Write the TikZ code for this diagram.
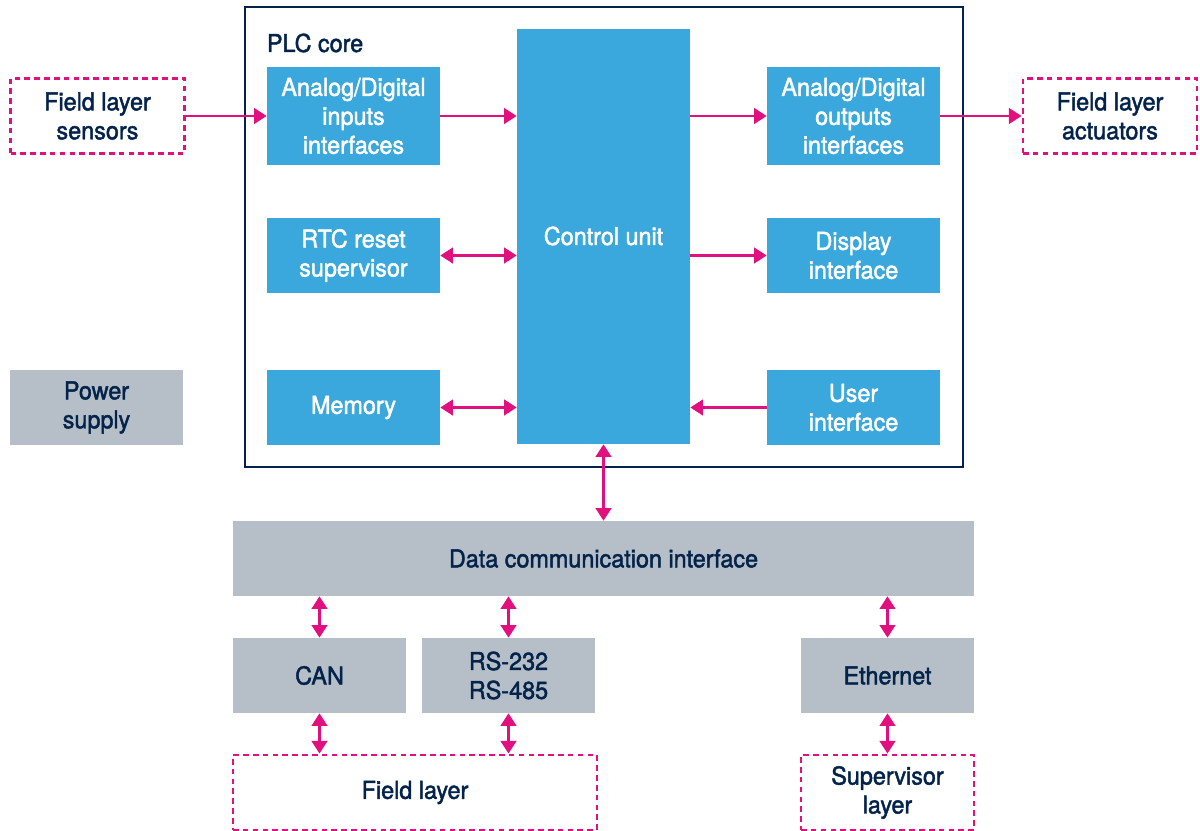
\documentclass[tikz,border=0pt]{standalone}
\usepackage{fontspec}
\setmainfont{TeX Gyre Heros}[FakeStretch=0.95, FakeBold=1.8]
\usepackage{xcolor}
\usetikzlibrary{arrows.meta,positioning,calc}

\definecolor{stblue}{HTML}{3AA8DC}
\definecolor{stgrey}{HTML}{B6BFC7}
\definecolor{stpink}{HTML}{E2107F}
\definecolor{stnavy}{HTML}{03234B}

\tikzset{
    every node/.style={font=\fontsize{17.5}{20.6}\selectfont, align=center},
    blk/.style={fill=stblue, text=white, minimum width=4.325cm, minimum height=1.875cm, inner sep=0pt},
    gblk/.style={fill=stgrey, text=stnavy, minimum width=4.325cm, minimum height=1.875cm, inner sep=0pt},
    dblk/.style={draw=stpink, dash pattern=on 4pt off 3pt, line width=2pt, text=stnavy, minimum width=4.35cm, minimum height=1.875cm, inner sep=0pt},
    arr/.style={draw=stpink, line width=2pt, -{Triangle[length=9pt,width=11pt]}},
    barr/.style={draw=stpink, line width=2pt, {Triangle[length=9pt,width=11pt]}-{Triangle[length=9pt,width=11pt]}}
}

\begin{document}
\begin{tikzpicture}
    \useasboundingbox (0,0) rectangle (30,20.75);

    % PLC core
    \draw[stnavy, line width=1.6pt] (6.125,9.075) rectangle (24.075,20.575);
    \node[anchor=west, text=stnavy] (core) at (6.55,19.675) {PLC core};

    \node[blk, minimum height=2.45cm] (ain) at (8.8375,17.85) {Analog/Digital\\inputs\\interfaces};
    \node[blk, minimum height=10.375cm] (ctrl) at (15.0875,14.8375) {};
    \node[text=white] (ctrltxt) at (15.0875,14.85) {Control unit};
    \node[blk, minimum height=2.45cm] (aout) at (21.3375,17.85) {Analog/Digital\\outputs\\interfaces};
    \node[blk] (rtc) at (8.8375,14.3625) {RTC reset\\supervisor};
    \node[blk] (disp) at (21.3375,14.3625) {Display\\interface};
    \node[blk] (mem) at (8.8375,10.5625) {Memory};
    \node[blk] (user) at (21.3375,10.5625) {User\\interface};

    % outside the core
    \node[dblk] (sens) at (2.4375,17.85) {Field layer\\sensors};
    \node[dblk] (act) at (27.75,17.85) {Field layer\\actuators};
    \node[gblk] (pwr) at (2.4125,10.5625) {Power\\supply};

    % communication
    \node[gblk, minimum width=18.525cm] (dci) at (15.0875,6.7875) {Data communication interface};
    \node[gblk] (can) at (7.9875,3.8625) {CAN};
    \node[gblk] (rs) at (12.7125,3.8625) {RS-232\\RS-485};
    \node[gblk] (eth) at (22.1875,3.8625) {Ethernet};
    \node[dblk, minimum width=9.1cm] (field) at (10.375,0.9375) {Field layer};
    \node[dblk, minimum width=4.325cm] (sup) at (22.1875,0.9375) {Supervisor\\layer};

    % connections
    \draw[arr] (sens.east) -- (ain.west);
    \draw[arr] (ain.east) -- (ain.east -| ctrl.west);
    \draw[arr] (aout.west -| ctrl.east) -- (aout.west);
    \draw[arr] (aout.east) -- (act.west);
    \draw[barr] (rtc.east) -- (rtc.east -| ctrl.west);
    \draw[arr] (disp.west -| ctrl.east) -- (disp.west);
    \draw[barr] (mem.east) -- (mem.east -| ctrl.west);
    \draw[arr] (user.west) -- (user.west -| ctrl.east);
    \draw[barr] (ctrl.south) -- (dci.north);
    \draw[barr] (can.north |- dci.south) -- (can.north);
    \draw[barr] (rs.north |- dci.south) -- (rs.north);
    \draw[barr] (eth.north |- dci.south) -- (eth.north);
    \draw[barr] (can.south) -- (can.south |- field.north);
    \draw[barr] (rs.south) -- (rs.south |- field.north);
    \draw[barr] (eth.south) -- (sup.north);
\end{tikzpicture}
\end{document}
